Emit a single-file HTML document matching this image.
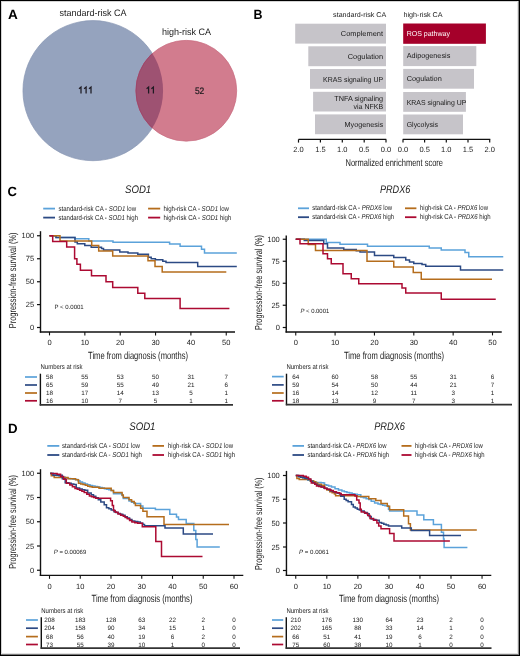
<!DOCTYPE html>
<html><head><meta charset="utf-8"><title>Figure</title>
<style>
html,body{margin:0;padding:0;background:#fff;}
body{width:520px;height:656px;overflow:hidden;}
svg{display:block;will-change:transform;font-family:"Liberation Sans", sans-serif;text-rendering:geometricPrecision;}
</style></head>
<body>
<svg width="520" height="656" viewBox="0 0 520 656" fill="#1a1a1a">
<rect x="0" y="0" width="520" height="656" fill="#fff"/>
<text x="7.90" y="18.60" font-size="13.3" font-weight="bold" fill="#000" textLength="9.80" lengthAdjust="spacingAndGlyphs">A</text>
<defs><clipPath id="cb"><circle cx="93.0" cy="90.65" r="70.05"/></clipPath></defs>
<circle cx="93.0" cy="90.65" r="70.05" fill="#95a3be" stroke="#8896b3" stroke-width="0.7"/>
<circle cx="186.3" cy="90.75" r="50.4" fill="#d27c8e" stroke="#c96b80" stroke-width="0.7"/>
<circle cx="186.3" cy="90.75" r="50.4" fill="#9e5272" stroke="#973f66" stroke-width="0.7" clip-path="url(#cb)"/>
<text x="59.60" y="15.60" font-size="9.4" textLength="66.90" lengthAdjust="spacingAndGlyphs">standard-risk CA</text>
<text x="161.90" y="34.80" font-size="9.4" textLength="49.10" lengthAdjust="spacingAndGlyphs">high-risk CA</text>
<path d="M81.00,93.6V87.1L79.00,88.8" fill="none" stroke="#1e1a22" stroke-width="1.25" stroke-linejoin="miter"/>
<path d="M86.10,93.6V87.1L84.10,88.8" fill="none" stroke="#1e1a22" stroke-width="1.25" stroke-linejoin="miter"/>
<path d="M91.00,93.6V87.1L89.00,88.8" fill="none" stroke="#1e1a22" stroke-width="1.25" stroke-linejoin="miter"/>
<path d="M148.60,93.6V87.1L146.60,88.8" fill="none" stroke="#1e1a22" stroke-width="1.25" stroke-linejoin="miter"/>
<path d="M153.40,93.6V87.1L151.40,88.8" fill="none" stroke="#1e1a22" stroke-width="1.25" stroke-linejoin="miter"/>
<text x="194.90" y="93.60" font-size="9.4" textLength="9.40" lengthAdjust="spacingAndGlyphs" stroke="#1e1a22" stroke-width="0.2">52</text>
<text x="253.60" y="18.60" font-size="13.3" font-weight="bold" fill="#000" textLength="9.00" lengthAdjust="spacingAndGlyphs">B</text>
<text x="333.10" y="17.20" font-size="7.0" textLength="53.10" lengthAdjust="spacingAndGlyphs">standard-risk CA</text>
<text x="403.40" y="17.20" font-size="7.0" textLength="39.20" lengthAdjust="spacingAndGlyphs">high-risk CA</text>
<rect x="295.20" y="23.70" width="90.80" height="19.90" fill="#c6c4c9"/>
<text x="340.80" y="35.90" font-size="7.2" textLength="42.30" lengthAdjust="spacingAndGlyphs">Complement</text>
<rect x="308.30" y="46.30" width="77.70" height="19.90" fill="#c6c4c9"/>
<text x="347.70" y="58.80" font-size="7.2" textLength="35.40" lengthAdjust="spacingAndGlyphs">Cogulation</text>
<rect x="310.00" y="69.00" width="76.00" height="19.80" fill="#c6c4c9"/>
<text x="323.00" y="81.50" font-size="7.2" textLength="60.10" lengthAdjust="spacingAndGlyphs">KRAS signaling UP</text>
<rect x="313.10" y="91.80" width="72.90" height="19.70" fill="#c6c4c9"/>
<text x="334.20" y="100.50" font-size="7.2" textLength="48.90" lengthAdjust="spacingAndGlyphs">TNFA signaling</text>
<text x="353.50" y="108.80" font-size="7.2" textLength="29.60" lengthAdjust="spacingAndGlyphs">via NFKB</text>
<rect x="315.00" y="114.40" width="71.00" height="19.80" fill="#c6c4c9"/>
<text x="344.60" y="126.50" font-size="7.2" textLength="38.50" lengthAdjust="spacingAndGlyphs">Myogenesis</text>
<rect x="403.20" y="23.50" width="82.70" height="20.30" fill="#a5002a"/>
<text x="406.70" y="36.30" font-size="7.2" fill="#fff" textLength="43.20" lengthAdjust="spacingAndGlyphs">ROS pathway</text>
<rect x="403.20" y="46.10" width="73.10" height="20.00" fill="#c6c4c9"/>
<text x="406.70" y="58.40" font-size="7.2" textLength="43.60" lengthAdjust="spacingAndGlyphs">Adipogenesis</text>
<rect x="403.20" y="68.90" width="70.80" height="19.80" fill="#c6c4c9"/>
<text x="406.70" y="81.40" font-size="7.2" textLength="35.10" lengthAdjust="spacingAndGlyphs">Cogulation</text>
<rect x="403.20" y="92.00" width="62.70" height="19.80" fill="#c6c4c9"/>
<text x="406.70" y="104.50" font-size="7.2" textLength="59.60" lengthAdjust="spacingAndGlyphs">KRAS signaling UP</text>
<rect x="403.20" y="114.50" width="59.80" height="19.80" fill="#c6c4c9"/>
<text x="406.70" y="126.60" font-size="7.2" textLength="31.30" lengthAdjust="spacingAndGlyphs">Glycolysis</text>
<line x1="298.50" y1="139.40" x2="386.30" y2="139.40" stroke="#111" stroke-width="1.4"/>
<line x1="402.70" y1="139.40" x2="490.30" y2="139.40" stroke="#111" stroke-width="1.4"/>
<line x1="298.50" y1="139.40" x2="298.50" y2="142.60" stroke="#111" stroke-width="1.2"/>
<text x="298.50" y="152.30" font-size="7.5" text-anchor="middle">2.0</text>
<line x1="320.40" y1="139.40" x2="320.40" y2="142.60" stroke="#111" stroke-width="1.2"/>
<text x="320.40" y="152.30" font-size="7.5" text-anchor="middle">1.5</text>
<line x1="342.30" y1="139.40" x2="342.30" y2="142.60" stroke="#111" stroke-width="1.2"/>
<text x="342.30" y="152.30" font-size="7.5" text-anchor="middle">1.0</text>
<line x1="364.20" y1="139.40" x2="364.20" y2="142.60" stroke="#111" stroke-width="1.2"/>
<text x="364.20" y="152.30" font-size="7.5" text-anchor="middle">0.5</text>
<line x1="386.00" y1="139.40" x2="386.00" y2="142.60" stroke="#111" stroke-width="1.2"/>
<text x="386.00" y="152.30" font-size="7.5" text-anchor="middle">0.0</text>
<line x1="403.00" y1="139.40" x2="403.00" y2="142.60" stroke="#111" stroke-width="1.2"/>
<text x="403.00" y="152.30" font-size="7.5" text-anchor="middle">0.0</text>
<line x1="424.60" y1="139.40" x2="424.60" y2="142.60" stroke="#111" stroke-width="1.2"/>
<text x="424.60" y="152.30" font-size="7.5" text-anchor="middle">0.5</text>
<line x1="446.30" y1="139.40" x2="446.30" y2="142.60" stroke="#111" stroke-width="1.2"/>
<text x="446.30" y="152.30" font-size="7.5" text-anchor="middle">1.0</text>
<line x1="468.00" y1="139.40" x2="468.00" y2="142.60" stroke="#111" stroke-width="1.2"/>
<text x="468.00" y="152.30" font-size="7.5" text-anchor="middle">1.5</text>
<line x1="489.70" y1="139.40" x2="489.70" y2="142.60" stroke="#111" stroke-width="1.2"/>
<text x="489.70" y="152.30" font-size="7.5" text-anchor="middle">2.0</text>
<text x="345.50" y="165.50" font-size="10.0" textLength="97.50" lengthAdjust="spacingAndGlyphs">Normalized enrichment score</text>
<text x="7.60" y="195.90" font-size="13.3" font-weight="bold" fill="#000" textLength="9.40" lengthAdjust="spacingAndGlyphs">C</text>
<text x="125.00" y="192.90" font-size="11.0" font-style="italic" textLength="26.20" lengthAdjust="spacingAndGlyphs">SOD1</text>
<text x="380.00" y="192.90" font-size="11.0" font-style="italic" textLength="30.30" lengthAdjust="spacingAndGlyphs">PRDX6</text>
<line x1="43.20" y1="208.60" x2="55.00" y2="208.60" stroke="#5ba2da" stroke-width="1.8"/>
<line x1="43.20" y1="217.60" x2="55.00" y2="217.60" stroke="#2c4a84" stroke-width="1.8"/>
<line x1="148.10" y1="208.60" x2="160.20" y2="208.60" stroke="#b56d1c" stroke-width="1.8"/>
<line x1="148.10" y1="217.60" x2="160.20" y2="217.60" stroke="#ac0a32" stroke-width="1.8"/>
<text x="58.50" y="210.60" font-size="7.1" textLength="77.60" lengthAdjust="spacingAndGlyphs">standard-risk CA - <tspan font-style="italic">SOD1</tspan> low</text>
<text x="58.50" y="219.60" font-size="7.1" textLength="79.50" lengthAdjust="spacingAndGlyphs">standard-risk CA - <tspan font-style="italic">SOD1</tspan> high</text>
<text x="163.50" y="210.60" font-size="7.1" textLength="65.40" lengthAdjust="spacingAndGlyphs">high-risk CA - <tspan font-style="italic">SOD1</tspan> low</text>
<text x="163.50" y="219.60" font-size="7.1" textLength="67.90" lengthAdjust="spacingAndGlyphs">high-risk CA - <tspan font-style="italic">SOD1</tspan> high</text>
<line x1="298.00" y1="208.30" x2="309.00" y2="208.30" stroke="#5ba2da" stroke-width="1.8"/>
<line x1="298.00" y1="217.20" x2="309.00" y2="217.20" stroke="#2c4a84" stroke-width="1.8"/>
<line x1="405.00" y1="208.30" x2="416.40" y2="208.30" stroke="#b56d1c" stroke-width="1.8"/>
<line x1="405.00" y1="217.20" x2="416.40" y2="217.20" stroke="#ac0a32" stroke-width="1.8"/>
<text x="312.20" y="210.30" font-size="7.1" textLength="80.00" lengthAdjust="spacingAndGlyphs">standard-risk CA - <tspan font-style="italic">PRDX6</tspan> low</text>
<text x="312.20" y="219.20" font-size="7.1" textLength="82.00" lengthAdjust="spacingAndGlyphs">standard-risk CA - <tspan font-style="italic">PRDX6</tspan> high</text>
<text x="420.00" y="210.30" font-size="7.1" textLength="68.00" lengthAdjust="spacingAndGlyphs">high-risk CA - <tspan font-style="italic">PRDX6</tspan> low</text>
<text x="420.00" y="219.20" font-size="7.1" textLength="70.70" lengthAdjust="spacingAndGlyphs">high-risk CA - <tspan font-style="italic">PRDX6</tspan> high</text>
<line x1="40.50" y1="231.20" x2="40.50" y2="332.60" stroke="#111" stroke-width="1.4"/>
<line x1="39.80" y1="332.00" x2="235.00" y2="332.00" stroke="#111" stroke-width="1.4"/>
<line x1="37.00" y1="235.75" x2="40.50" y2="235.75" stroke="#111" stroke-width="1.2"/>
<text x="34.10" y="238.35" font-size="7.5" text-anchor="end">100</text>
<line x1="37.00" y1="258.75" x2="40.50" y2="258.75" stroke="#111" stroke-width="1.2"/>
<text x="34.10" y="261.35" font-size="7.5" text-anchor="end">75</text>
<line x1="37.00" y1="281.75" x2="40.50" y2="281.75" stroke="#111" stroke-width="1.2"/>
<text x="34.10" y="284.35" font-size="7.5" text-anchor="end">50</text>
<line x1="37.00" y1="304.60" x2="40.50" y2="304.60" stroke="#111" stroke-width="1.2"/>
<text x="34.10" y="307.20" font-size="7.5" text-anchor="end">25</text>
<line x1="37.00" y1="327.50" x2="40.50" y2="327.50" stroke="#111" stroke-width="1.2"/>
<text x="34.10" y="330.10" font-size="7.5" text-anchor="end">0</text>
<line x1="49.50" y1="332.00" x2="49.50" y2="335.40" stroke="#111" stroke-width="1.1"/>
<text x="49.50" y="344.90" font-size="7.5" text-anchor="middle">0</text>
<line x1="84.85" y1="332.00" x2="84.85" y2="335.40" stroke="#111" stroke-width="1.1"/>
<text x="84.85" y="344.90" font-size="7.5" text-anchor="middle">10</text>
<line x1="120.20" y1="332.00" x2="120.20" y2="335.40" stroke="#111" stroke-width="1.1"/>
<text x="120.20" y="344.90" font-size="7.5" text-anchor="middle">20</text>
<line x1="155.55" y1="332.00" x2="155.55" y2="335.40" stroke="#111" stroke-width="1.1"/>
<text x="155.55" y="344.90" font-size="7.5" text-anchor="middle">30</text>
<line x1="190.90" y1="332.00" x2="190.90" y2="335.40" stroke="#111" stroke-width="1.1"/>
<text x="190.90" y="344.90" font-size="7.5" text-anchor="middle">40</text>
<line x1="226.25" y1="332.00" x2="226.25" y2="335.40" stroke="#111" stroke-width="1.1"/>
<text x="226.25" y="344.90" font-size="7.5" text-anchor="middle">50</text>
<text x="16.30" y="328.20" font-size="10.2" textLength="95.70" lengthAdjust="spacingAndGlyphs" transform="rotate(-90 16.30 328.20)">Progression-free survival (%)</text>
<text x="88.10" y="358.50" font-size="10.4" textLength="99.90" lengthAdjust="spacingAndGlyphs">Time from diagnosis (months)</text>
<text x="54.50" y="309.30" font-size="6.2" textLength="29.20" lengthAdjust="spacingAndGlyphs">P &lt; 0.0001</text>
<path d="M49.50,235.70H56.00V237.50H75.00V238.70H88.80V241.00H113.00V242.20H169.60V244.10H180.10V246.20H201.50V249.20H204.50V253.00H236.80" fill="none" stroke="#5ba2da" stroke-width="1.5" stroke-linejoin="miter"/>
<path d="M49.50,235.70H56.00V237.50H75.00V242.10H77.30V243.80H84.80V245.60H91.20V247.30H101.50V248.50H103.50V250.10H119.80V252.00H128.00V253.00H137.80V254.20H148.40V257.20H151.20V258.70H155.40V259.70H162.80V261.20H166.00V262.50H197.70V266.50H236.80" fill="none" stroke="#2c4a84" stroke-width="1.5" stroke-linejoin="miter"/>
<path d="M49.50,235.70H60.00V241.00H91.70V245.60H98.70V251.00H112.70V256.00H148.00V260.80H155.00V266.50H162.20V272.00H226.30" fill="none" stroke="#b56d1c" stroke-width="1.5" stroke-linejoin="miter"/>
<path d="M49.50,235.70H52.70V241.50H66.70V247.00H74.60V258.80H76.90V264.20H80.40V270.30H91.50V275.70H106.00V281.80H112.70V287.60H137.80V293.20H144.80V298.40H180.10V308.40H229.40" fill="none" stroke="#ac0a32" stroke-width="1.5" stroke-linejoin="miter"/>
<text x="40.50" y="369.00" font-size="6.9" textLength="42.00" lengthAdjust="spacingAndGlyphs">Numbers at risk</text>
<line x1="40.40" y1="373.70" x2="40.40" y2="405.50" stroke="#111" stroke-width="1.4"/>
<line x1="39.70" y1="404.90" x2="233.00" y2="404.90" stroke="#333" stroke-width="1.6"/>
<line x1="25.00" y1="377.00" x2="37.00" y2="377.00" stroke="#5ba2da" stroke-width="1.7"/>
<line x1="25.00" y1="385.00" x2="37.00" y2="385.00" stroke="#2c4a84" stroke-width="1.7"/>
<line x1="25.00" y1="393.00" x2="37.00" y2="393.00" stroke="#b56d1c" stroke-width="1.7"/>
<line x1="25.00" y1="400.80" x2="37.00" y2="400.80" stroke="#ac0a32" stroke-width="1.7"/>
<text x="49.50" y="379.10" font-size="6.3" text-anchor="middle">58</text>
<text x="84.85" y="379.10" font-size="6.3" text-anchor="middle">55</text>
<text x="120.20" y="379.10" font-size="6.3" text-anchor="middle">53</text>
<text x="155.55" y="379.10" font-size="6.3" text-anchor="middle">50</text>
<text x="190.90" y="379.10" font-size="6.3" text-anchor="middle">31</text>
<text x="226.25" y="379.10" font-size="6.3" text-anchor="middle">7</text>
<text x="49.50" y="387.10" font-size="6.3" text-anchor="middle">65</text>
<text x="84.85" y="387.10" font-size="6.3" text-anchor="middle">59</text>
<text x="120.20" y="387.10" font-size="6.3" text-anchor="middle">55</text>
<text x="155.55" y="387.10" font-size="6.3" text-anchor="middle">49</text>
<text x="190.90" y="387.10" font-size="6.3" text-anchor="middle">21</text>
<text x="226.25" y="387.10" font-size="6.3" text-anchor="middle">6</text>
<text x="49.50" y="395.10" font-size="6.3" text-anchor="middle">18</text>
<text x="84.85" y="395.10" font-size="6.3" text-anchor="middle">17</text>
<text x="120.20" y="395.10" font-size="6.3" text-anchor="middle">14</text>
<text x="155.55" y="395.10" font-size="6.3" text-anchor="middle">13</text>
<text x="190.90" y="395.10" font-size="6.3" text-anchor="middle">5</text>
<text x="226.25" y="395.10" font-size="6.3" text-anchor="middle">1</text>
<text x="49.50" y="402.90" font-size="6.3" text-anchor="middle">16</text>
<text x="84.85" y="402.90" font-size="6.3" text-anchor="middle">10</text>
<text x="120.20" y="402.90" font-size="6.3" text-anchor="middle">7</text>
<text x="155.55" y="402.90" font-size="6.3" text-anchor="middle">5</text>
<text x="190.90" y="402.90" font-size="6.3" text-anchor="middle">1</text>
<text x="226.25" y="402.90" font-size="6.3" text-anchor="middle">1</text>
<line x1="286.25" y1="235.50" x2="286.25" y2="332.60" stroke="#111" stroke-width="1.4"/>
<line x1="285.55" y1="332.00" x2="501.75" y2="332.00" stroke="#111" stroke-width="1.4"/>
<line x1="282.75" y1="239.25" x2="286.25" y2="239.25" stroke="#111" stroke-width="1.2"/>
<text x="279.80" y="241.85" font-size="7.5" text-anchor="end">100</text>
<line x1="282.75" y1="261.25" x2="286.25" y2="261.25" stroke="#111" stroke-width="1.2"/>
<text x="279.80" y="263.85" font-size="7.5" text-anchor="end">75</text>
<line x1="282.75" y1="283.25" x2="286.25" y2="283.25" stroke="#111" stroke-width="1.2"/>
<text x="279.80" y="285.85" font-size="7.5" text-anchor="end">50</text>
<line x1="282.75" y1="305.25" x2="286.25" y2="305.25" stroke="#111" stroke-width="1.2"/>
<text x="279.80" y="307.85" font-size="7.5" text-anchor="end">25</text>
<line x1="282.75" y1="327.50" x2="286.25" y2="327.50" stroke="#111" stroke-width="1.2"/>
<text x="279.80" y="330.10" font-size="7.5" text-anchor="end">0</text>
<line x1="295.75" y1="332.00" x2="295.75" y2="335.40" stroke="#111" stroke-width="1.1"/>
<text x="295.75" y="344.90" font-size="7.5" text-anchor="middle">0</text>
<line x1="335.10" y1="332.00" x2="335.10" y2="335.40" stroke="#111" stroke-width="1.1"/>
<text x="335.10" y="344.90" font-size="7.5" text-anchor="middle">10</text>
<line x1="374.45" y1="332.00" x2="374.45" y2="335.40" stroke="#111" stroke-width="1.1"/>
<text x="374.45" y="344.90" font-size="7.5" text-anchor="middle">20</text>
<line x1="413.80" y1="332.00" x2="413.80" y2="335.40" stroke="#111" stroke-width="1.1"/>
<text x="413.80" y="344.90" font-size="7.5" text-anchor="middle">30</text>
<line x1="453.15" y1="332.00" x2="453.15" y2="335.40" stroke="#111" stroke-width="1.1"/>
<text x="453.15" y="344.90" font-size="7.5" text-anchor="middle">40</text>
<line x1="492.50" y1="332.00" x2="492.50" y2="335.40" stroke="#111" stroke-width="1.1"/>
<text x="492.50" y="344.90" font-size="7.5" text-anchor="middle">50</text>
<text x="261.60" y="330.00" font-size="10.2" textLength="95.00" lengthAdjust="spacingAndGlyphs" transform="rotate(-90 261.60 330.00)">Progression-free survival (%)</text>
<text x="344.00" y="358.50" font-size="10.4" textLength="100.00" lengthAdjust="spacingAndGlyphs">Time from diagnosis (months)</text>
<text x="300.5" y="312.8" font-size="6.2" textLength="28.7" lengthAdjust="spacingAndGlyphs"><tspan font-style="italic">P</tspan> &lt; 0.0001</text>
<path d="M295.75,239.25H326.25V242.50H340.00V244.25H367.50V246.25H429.25V248.00H441.25V250.00H465.00V252.50H468.75V256.75H503.25" fill="none" stroke="#5ba2da" stroke-width="1.5" stroke-linejoin="miter"/>
<path d="M295.75,239.25H304.25V240.50H323.75V243.75H327.50V248.00H343.75V249.50H356.25V250.75H360.00V252.00H374.50V255.50H393.75V257.50H405.75V260.00H409.50V262.00H413.75V263.50H422.00V264.50H425.75V266.25H460.50V270.00H503.25" fill="none" stroke="#2c4a84" stroke-width="1.5" stroke-linejoin="miter"/>
<path d="M295.75,239.25H308.25V244.50H315.50V250.50H367.00V261.25H393.75V267.00H413.25V272.50H421.25V279.25H492.00" fill="none" stroke="#b56d1c" stroke-width="1.5" stroke-linejoin="miter"/>
<path d="M295.75,239.25H300.00V243.75H323.00V253.75H327.50V258.75H331.25V263.75H343.00V273.75H351.25V278.75H358.75V283.75H402.00V288.00H405.75V293.00H441.25V299.25H495.75" fill="none" stroke="#ac0a32" stroke-width="1.5" stroke-linejoin="miter"/>
<text x="286.40" y="369.00" font-size="6.9" textLength="42.00" lengthAdjust="spacingAndGlyphs">Numbers at risk</text>
<line x1="286.50" y1="373.70" x2="286.50" y2="405.20" stroke="#111" stroke-width="1.4"/>
<line x1="285.80" y1="404.60" x2="512.00" y2="404.60" stroke="#333" stroke-width="1.6"/>
<line x1="272.00" y1="376.60" x2="283.70" y2="376.60" stroke="#5ba2da" stroke-width="1.7"/>
<line x1="272.00" y1="384.90" x2="283.70" y2="384.90" stroke="#2c4a84" stroke-width="1.7"/>
<line x1="272.00" y1="393.00" x2="283.70" y2="393.00" stroke="#b56d1c" stroke-width="1.7"/>
<line x1="272.00" y1="400.80" x2="283.70" y2="400.80" stroke="#ac0a32" stroke-width="1.7"/>
<text x="295.75" y="378.70" font-size="6.3" text-anchor="middle">64</text>
<text x="335.10" y="378.70" font-size="6.3" text-anchor="middle">60</text>
<text x="374.45" y="378.70" font-size="6.3" text-anchor="middle">58</text>
<text x="413.80" y="378.70" font-size="6.3" text-anchor="middle">55</text>
<text x="453.15" y="378.70" font-size="6.3" text-anchor="middle">31</text>
<text x="492.50" y="378.70" font-size="6.3" text-anchor="middle">6</text>
<text x="295.75" y="387.00" font-size="6.3" text-anchor="middle">59</text>
<text x="335.10" y="387.00" font-size="6.3" text-anchor="middle">54</text>
<text x="374.45" y="387.00" font-size="6.3" text-anchor="middle">50</text>
<text x="413.80" y="387.00" font-size="6.3" text-anchor="middle">44</text>
<text x="453.15" y="387.00" font-size="6.3" text-anchor="middle">21</text>
<text x="492.50" y="387.00" font-size="6.3" text-anchor="middle">7</text>
<text x="295.75" y="395.10" font-size="6.3" text-anchor="middle">16</text>
<text x="335.10" y="395.10" font-size="6.3" text-anchor="middle">14</text>
<text x="374.45" y="395.10" font-size="6.3" text-anchor="middle">12</text>
<text x="413.80" y="395.10" font-size="6.3" text-anchor="middle">11</text>
<text x="453.15" y="395.10" font-size="6.3" text-anchor="middle">3</text>
<text x="492.50" y="395.10" font-size="6.3" text-anchor="middle">1</text>
<text x="295.75" y="402.90" font-size="6.3" text-anchor="middle">18</text>
<text x="335.10" y="402.90" font-size="6.3" text-anchor="middle">13</text>
<text x="374.45" y="402.90" font-size="6.3" text-anchor="middle">9</text>
<text x="413.80" y="402.90" font-size="6.3" text-anchor="middle">7</text>
<text x="453.15" y="402.90" font-size="6.3" text-anchor="middle">3</text>
<text x="492.50" y="402.90" font-size="6.3" text-anchor="middle">1</text>
<text x="8.00" y="432.90" font-size="13.3" font-weight="bold" fill="#000" textLength="9.60" lengthAdjust="spacingAndGlyphs">D</text>
<text x="129.20" y="429.90" font-size="11.0" font-style="italic" textLength="26.30" lengthAdjust="spacingAndGlyphs">SOD1</text>
<text x="374.20" y="429.90" font-size="11.0" font-style="italic" textLength="30.80" lengthAdjust="spacingAndGlyphs">PRDX6</text>
<line x1="47.30" y1="445.90" x2="59.30" y2="445.90" stroke="#5ba2da" stroke-width="1.8"/>
<line x1="47.30" y1="455.00" x2="59.30" y2="455.00" stroke="#2c4a84" stroke-width="1.8"/>
<line x1="152.50" y1="445.90" x2="164.00" y2="445.90" stroke="#b56d1c" stroke-width="1.8"/>
<line x1="152.50" y1="455.00" x2="164.00" y2="455.00" stroke="#ac0a32" stroke-width="1.8"/>
<text x="62.00" y="447.90" font-size="7.1" textLength="78.00" lengthAdjust="spacingAndGlyphs">standard-risk CA - <tspan font-style="italic">SOD1</tspan> low</text>
<text x="62.00" y="457.00" font-size="7.1" textLength="80.00" lengthAdjust="spacingAndGlyphs">standard-risk CA - <tspan font-style="italic">SOD1</tspan> high</text>
<text x="168.00" y="447.90" font-size="7.1" textLength="65.00" lengthAdjust="spacingAndGlyphs">high-risk CA - <tspan font-style="italic">SOD1</tspan> low</text>
<text x="168.00" y="457.00" font-size="7.1" textLength="67.00" lengthAdjust="spacingAndGlyphs">high-risk CA - <tspan font-style="italic">SOD1</tspan> high</text>
<line x1="292.50" y1="445.90" x2="304.00" y2="445.90" stroke="#5ba2da" stroke-width="1.8"/>
<line x1="292.50" y1="455.00" x2="304.00" y2="455.00" stroke="#2c4a84" stroke-width="1.8"/>
<line x1="401.50" y1="445.90" x2="411.50" y2="445.90" stroke="#b56d1c" stroke-width="1.8"/>
<line x1="401.50" y1="455.00" x2="411.50" y2="455.00" stroke="#ac0a32" stroke-width="1.8"/>
<text x="307.50" y="447.90" font-size="7.1" textLength="79.00" lengthAdjust="spacingAndGlyphs">standard-risk CA - <tspan font-style="italic">PRDX6</tspan> low</text>
<text x="307.50" y="457.00" font-size="7.1" textLength="81.50" lengthAdjust="spacingAndGlyphs">standard-risk CA - <tspan font-style="italic">PRDX6</tspan> high</text>
<text x="415.00" y="447.90" font-size="7.1" textLength="67.80" lengthAdjust="spacingAndGlyphs">high-risk CA - <tspan font-style="italic">PRDX6</tspan> low</text>
<text x="415.00" y="457.00" font-size="7.1" textLength="69.60" lengthAdjust="spacingAndGlyphs">high-risk CA - <tspan font-style="italic">PRDX6</tspan> high</text>
<line x1="40.50" y1="469.20" x2="40.50" y2="576.00" stroke="#111" stroke-width="1.4"/>
<line x1="39.80" y1="575.40" x2="243.30" y2="575.40" stroke="#111" stroke-width="1.4"/>
<line x1="37.00" y1="473.25" x2="40.50" y2="473.25" stroke="#111" stroke-width="1.2"/>
<text x="34.10" y="475.85" font-size="7.5" text-anchor="end">100</text>
<line x1="37.00" y1="497.50" x2="40.50" y2="497.50" stroke="#111" stroke-width="1.2"/>
<text x="34.10" y="500.10" font-size="7.5" text-anchor="end">75</text>
<line x1="37.00" y1="521.75" x2="40.50" y2="521.75" stroke="#111" stroke-width="1.2"/>
<text x="34.10" y="524.35" font-size="7.5" text-anchor="end">50</text>
<line x1="37.00" y1="546.00" x2="40.50" y2="546.00" stroke="#111" stroke-width="1.2"/>
<text x="34.10" y="548.60" font-size="7.5" text-anchor="end">25</text>
<line x1="37.00" y1="570.25" x2="40.50" y2="570.25" stroke="#111" stroke-width="1.2"/>
<text x="34.10" y="572.85" font-size="7.5" text-anchor="end">0</text>
<line x1="49.50" y1="575.40" x2="49.50" y2="578.80" stroke="#111" stroke-width="1.1"/>
<text x="49.50" y="588.50" font-size="7.5" text-anchor="middle">0</text>
<line x1="80.25" y1="575.40" x2="80.25" y2="578.80" stroke="#111" stroke-width="1.1"/>
<text x="80.25" y="588.50" font-size="7.5" text-anchor="middle">10</text>
<line x1="111.00" y1="575.40" x2="111.00" y2="578.80" stroke="#111" stroke-width="1.1"/>
<text x="111.00" y="588.50" font-size="7.5" text-anchor="middle">20</text>
<line x1="141.75" y1="575.40" x2="141.75" y2="578.80" stroke="#111" stroke-width="1.1"/>
<text x="141.75" y="588.50" font-size="7.5" text-anchor="middle">30</text>
<line x1="172.50" y1="575.40" x2="172.50" y2="578.80" stroke="#111" stroke-width="1.1"/>
<text x="172.50" y="588.50" font-size="7.5" text-anchor="middle">40</text>
<line x1="203.25" y1="575.40" x2="203.25" y2="578.80" stroke="#111" stroke-width="1.1"/>
<text x="203.25" y="588.50" font-size="7.5" text-anchor="middle">50</text>
<line x1="234.00" y1="575.40" x2="234.00" y2="578.80" stroke="#111" stroke-width="1.1"/>
<text x="234.00" y="588.50" font-size="7.5" text-anchor="middle">60</text>
<text x="16.30" y="568.80" font-size="10.2" textLength="93.80" lengthAdjust="spacingAndGlyphs" transform="rotate(-90 16.30 568.80)">Progression-free survival (%)</text>
<text x="91.50" y="601.50" font-size="10.4" textLength="101.00" lengthAdjust="spacingAndGlyphs">Time from diagnosis (months)</text>
<text x="53.75" y="554.1" font-size="6.2" textLength="32.5" lengthAdjust="spacingAndGlyphs"><tspan font-style="italic">P</tspan> = 0.00069</text>
<path d="M50.00,473.30H53.00V474.40H56.00V475.50H59.00V476.25H62.00V477.00H65.00V477.75H68.00V478.50H70.53V478.83H73.07V479.17H75.60V479.50H77.80V480.75H80.00V482.00H82.50V483.00H85.00V484.00H87.50V484.75H90.00V485.50H92.50V486.00H95.00V486.50H97.50V487.00H100.00V487.50H102.20V488.08H104.40V488.66H106.60V489.24H108.80V489.82H111.00V490.40H113.50V493.80H122.00V495.50H123.30V498.50H129.00V501.00H131.50V502.25H134.00V503.50H140.60V506.00H142.90V508.30H155.40V509.40H169.80V514.20H176.50V517.10H178.50V519.60H186.20V523.50H193.80V530.60H195.80V539.60H197.10V546.90H219.80" fill="none" stroke="#5ba2da" stroke-width="1.5" stroke-linejoin="miter"/>
<path d="M50.00,473.30H51.30V475.80H54.20V477.50H68.00V478.70H75.60V479.80H78.50V483.30H80.75V483.90H83.00V484.50H85.35V485.35H87.70V486.20H90.00V486.75H92.30V487.30H99.00V488.30H111.20V490.40H113.50V492.50H122.10V495.00H123.30V497.50H129.00V499.80H131.60V501.45H134.20V503.10H135.40V505.60H140.60V508.30H142.90V511.20H147.00V516.70H164.00V524.40H229.00" fill="none" stroke="#b56d1c" stroke-width="1.5" stroke-linejoin="miter"/>
<path d="M50.00,473.50H53.00V475.20H62.30V478.70H65.20V482.70H68.70V483.30H71.25V483.90H73.80V484.50H76.20V487.90H79.60V489.10H82.20V489.65H84.80V490.20H87.70V493.10H91.20V494.80H93.50V496.25H95.80V497.70H98.30V499.80H100.80V501.90H104.20V504.80H106.50V507.70H108.85V508.85H111.20V510.00H114.00V511.70H116.00V512.60H118.00V513.50H120.35V514.35H122.70V515.20H125.00V516.65H127.30V518.10H129.60V519.55H131.90V521.00H134.80V521.55H137.70V522.10H140.30V523.25H142.90V524.40H144.50V525.80H165.00V528.00H183.30V534.00H213.00" fill="none" stroke="#2c4a84" stroke-width="1.5" stroke-linejoin="miter"/>
<path d="M50.50,473.50H57.10V474.30H60.60V476.40H63.50V479.30H66.30V483.30H69.80V485.00H72.40V486.75H75.00V488.50H77.30V489.35H79.60V490.20H81.90V491.35H84.20V492.50H86.80V494.25H89.40V496.00H91.53V496.77H93.67V497.53H95.80V498.30H108.80V498.30H110.60V500.80H112.30V505.40H113.50V510.60H115.20V512.30H118.00V514.00H120.65V515.15H123.30V516.30H125.30V517.50H127.30V518.70H129.60V520.40H131.90V522.10H134.80V522.70H137.70V523.30H142.30V526.70H155.80V541.50H161.50V556.50H202.50" fill="none" stroke="#ac0a32" stroke-width="1.5" stroke-linejoin="miter"/>
<text x="41.25" y="612.60" font-size="6.9" textLength="42.00" lengthAdjust="spacingAndGlyphs">Numbers at risk</text>
<line x1="41.30" y1="617.30" x2="41.30" y2="648.70" stroke="#111" stroke-width="1.4"/>
<line x1="40.60" y1="648.10" x2="240.00" y2="648.10" stroke="#333" stroke-width="1.6"/>
<line x1="26.00" y1="620.00" x2="37.90" y2="620.00" stroke="#5ba2da" stroke-width="1.7"/>
<line x1="26.00" y1="628.20" x2="37.90" y2="628.20" stroke="#2c4a84" stroke-width="1.7"/>
<line x1="26.00" y1="636.60" x2="37.90" y2="636.60" stroke="#b56d1c" stroke-width="1.7"/>
<line x1="26.00" y1="644.50" x2="37.90" y2="644.50" stroke="#ac0a32" stroke-width="1.7"/>
<text x="49.50" y="622.10" font-size="6.3" text-anchor="middle">208</text>
<text x="80.25" y="622.10" font-size="6.3" text-anchor="middle">183</text>
<text x="111.00" y="622.10" font-size="6.3" text-anchor="middle">128</text>
<text x="141.75" y="622.10" font-size="6.3" text-anchor="middle">63</text>
<text x="172.50" y="622.10" font-size="6.3" text-anchor="middle">22</text>
<text x="203.25" y="622.10" font-size="6.3" text-anchor="middle">2</text>
<text x="234.00" y="622.10" font-size="6.3" text-anchor="middle">0</text>
<text x="49.50" y="630.30" font-size="6.3" text-anchor="middle">204</text>
<text x="80.25" y="630.30" font-size="6.3" text-anchor="middle">158</text>
<text x="111.00" y="630.30" font-size="6.3" text-anchor="middle">90</text>
<text x="141.75" y="630.30" font-size="6.3" text-anchor="middle">34</text>
<text x="172.50" y="630.30" font-size="6.3" text-anchor="middle">15</text>
<text x="203.25" y="630.30" font-size="6.3" text-anchor="middle">1</text>
<text x="234.00" y="630.30" font-size="6.3" text-anchor="middle">0</text>
<text x="49.50" y="638.70" font-size="6.3" text-anchor="middle">68</text>
<text x="80.25" y="638.70" font-size="6.3" text-anchor="middle">56</text>
<text x="111.00" y="638.70" font-size="6.3" text-anchor="middle">40</text>
<text x="141.75" y="638.70" font-size="6.3" text-anchor="middle">19</text>
<text x="172.50" y="638.70" font-size="6.3" text-anchor="middle">6</text>
<text x="203.25" y="638.70" font-size="6.3" text-anchor="middle">2</text>
<text x="234.00" y="638.70" font-size="6.3" text-anchor="middle">0</text>
<text x="49.50" y="646.60" font-size="6.3" text-anchor="middle">73</text>
<text x="80.25" y="646.60" font-size="6.3" text-anchor="middle">55</text>
<text x="111.00" y="646.60" font-size="6.3" text-anchor="middle">39</text>
<text x="141.75" y="646.60" font-size="6.3" text-anchor="middle">10</text>
<text x="172.50" y="646.60" font-size="6.3" text-anchor="middle">1</text>
<text x="203.25" y="646.60" font-size="6.3" text-anchor="middle">0</text>
<text x="234.00" y="646.60" font-size="6.3" text-anchor="middle">0</text>
<line x1="286.45" y1="470.90" x2="286.45" y2="576.00" stroke="#111" stroke-width="1.4"/>
<line x1="285.75" y1="575.40" x2="491.30" y2="575.40" stroke="#111" stroke-width="1.4"/>
<line x1="282.95" y1="475.50" x2="286.45" y2="475.50" stroke="#111" stroke-width="1.2"/>
<text x="279.80" y="478.10" font-size="7.5" text-anchor="end">100</text>
<line x1="282.95" y1="499.25" x2="286.45" y2="499.25" stroke="#111" stroke-width="1.2"/>
<text x="279.80" y="501.85" font-size="7.5" text-anchor="end">75</text>
<line x1="282.95" y1="523.00" x2="286.45" y2="523.00" stroke="#111" stroke-width="1.2"/>
<text x="279.80" y="525.60" font-size="7.5" text-anchor="end">50</text>
<line x1="282.95" y1="547.00" x2="286.45" y2="547.00" stroke="#111" stroke-width="1.2"/>
<text x="279.80" y="549.60" font-size="7.5" text-anchor="end">25</text>
<line x1="282.95" y1="570.50" x2="286.45" y2="570.50" stroke="#111" stroke-width="1.2"/>
<text x="279.80" y="573.10" font-size="7.5" text-anchor="end">0</text>
<line x1="295.75" y1="575.40" x2="295.75" y2="578.80" stroke="#111" stroke-width="1.1"/>
<text x="295.75" y="588.50" font-size="7.5" text-anchor="middle">0</text>
<line x1="326.80" y1="575.40" x2="326.80" y2="578.80" stroke="#111" stroke-width="1.1"/>
<text x="326.80" y="588.50" font-size="7.5" text-anchor="middle">10</text>
<line x1="357.85" y1="575.40" x2="357.85" y2="578.80" stroke="#111" stroke-width="1.1"/>
<text x="357.85" y="588.50" font-size="7.5" text-anchor="middle">20</text>
<line x1="388.90" y1="575.40" x2="388.90" y2="578.80" stroke="#111" stroke-width="1.1"/>
<text x="388.90" y="588.50" font-size="7.5" text-anchor="middle">30</text>
<line x1="419.95" y1="575.40" x2="419.95" y2="578.80" stroke="#111" stroke-width="1.1"/>
<text x="419.95" y="588.50" font-size="7.5" text-anchor="middle">40</text>
<line x1="451.00" y1="575.40" x2="451.00" y2="578.80" stroke="#111" stroke-width="1.1"/>
<text x="451.00" y="588.50" font-size="7.5" text-anchor="middle">50</text>
<line x1="482.05" y1="575.40" x2="482.05" y2="578.80" stroke="#111" stroke-width="1.1"/>
<text x="482.05" y="588.50" font-size="7.5" text-anchor="middle">60</text>
<text x="262.00" y="570.00" font-size="10.2" textLength="92.50" lengthAdjust="spacingAndGlyphs" transform="rotate(-90 262.00 570.00)">Progression-free survival (%)</text>
<text x="339.00" y="601.50" font-size="10.4" textLength="100.00" lengthAdjust="spacingAndGlyphs">Time from diagnosis (months)</text>
<text x="299.0" y="554.0" font-size="6.2" textLength="29.8" lengthAdjust="spacingAndGlyphs"><tspan font-style="italic">P</tspan> = 0.0061</text>
<path d="M295.80,475.50H298.10V476.27H300.40V477.03H302.70V477.80H305.20V478.97H307.70V480.13H310.20V481.30H312.30V481.67H314.40V482.03H316.50V482.40H318.83V482.60H321.17V482.80H323.50V483.00H324.60V484.70H326.65V485.30H328.70V485.90H331.50V487.00H335.00V488.80H338.50V489.90H341.90V491.10H344.40V491.80H346.90V492.50H349.50V493.07H352.10V493.65H354.70V494.23H357.30V494.80H360.80V497.10H363.47V497.87H366.13V498.63H368.80V499.40H371.20V501.20H374.60V502.90H378.00V504.00H380.33V504.60H382.67V505.20H385.00V505.80H388.50V509.20H389.60V511.00H417.00V515.00H423.80V519.80H433.40V524.50H441.40V532.30H443.50V539.00H444.10V547.40H467.40" fill="none" stroke="#5ba2da" stroke-width="1.5" stroke-linejoin="miter"/>
<path d="M295.80,475.50H296.90V478.40H299.20V479.50H307.90V479.50H310.20V480.70H313.70V481.80H315.70V483.00H317.70V484.20H321.20V485.30H324.60V488.20H326.90V489.90H329.80V491.70H332.10V492.85H334.40V494.00H335.60V495.70H357.30V496.50H368.80V498.80H375.80V500.60H381.00V503.50H387.30V506.30H389.60V509.80H403.70V516.00H408.50V523.70H410.40V530.00H476.80" fill="none" stroke="#b56d1c" stroke-width="1.5" stroke-linejoin="miter"/>
<path d="M295.80,475.50H298.70V476.70H300.80V477.27H302.90V477.83H305.00V478.40H308.50V479.50H310.80V481.30H312.80V482.75H314.80V484.20H316.93V485.13H319.07V486.07H321.20V487.00H324.05V488.15H326.90V489.30H329.03V490.10H331.17V490.90H333.30V491.70H335.40V492.47H337.50V493.23H339.60V494.00H340.80V496.30H344.20V499.20H346.15V500.45H348.10V501.70H351.50V504.60H353.30V506.90H355.30V508.05H357.30V509.20H359.30V510.10H361.30V511.00H364.20V512.40H367.10V513.80H369.15V516.40H371.20V519.00H373.50V519.60H375.80V520.20H379.20V522.50H381.50V523.35H383.80V524.20H386.15V525.10H388.50V526.00H401.70V528.00H411.30V530.40H429.60V535.60H461.00" fill="none" stroke="#2c4a84" stroke-width="1.5" stroke-linejoin="miter"/>
<path d="M295.80,475.50H303.30V476.30H306.20V477.20H308.50V479.00H310.80V481.30H311.30V483.00H314.80V484.20H316.50V485.90H318.85V486.45H321.20V487.00H324.60V488.50H326.90V489.30H330.40V490.50H333.30V491.70H336.20V492.80H339.60V493.60H341.20V494.80H355.00V496.00H356.70V500.00H359.00V502.90H360.20V509.20H361.30V512.10H364.80V513.30H367.70V515.60H370.00V518.50H373.50V520.20H376.90V523.10H378.70V526.00H381.00V528.80H389.60V533.50H394.00V541.00H449.90" fill="none" stroke="#ac0a32" stroke-width="1.5" stroke-linejoin="miter"/>
<text x="286.40" y="612.60" font-size="6.9" textLength="42.00" lengthAdjust="spacingAndGlyphs">Numbers at risk</text>
<line x1="286.30" y1="617.30" x2="286.30" y2="648.70" stroke="#111" stroke-width="1.4"/>
<line x1="285.60" y1="648.10" x2="491.50" y2="648.10" stroke="#333" stroke-width="1.6"/>
<line x1="272.00" y1="620.00" x2="283.20" y2="620.00" stroke="#5ba2da" stroke-width="1.7"/>
<line x1="272.00" y1="628.20" x2="283.20" y2="628.20" stroke="#2c4a84" stroke-width="1.7"/>
<line x1="272.00" y1="636.60" x2="283.20" y2="636.60" stroke="#b56d1c" stroke-width="1.7"/>
<line x1="272.00" y1="644.50" x2="283.20" y2="644.50" stroke="#ac0a32" stroke-width="1.7"/>
<text x="295.75" y="622.10" font-size="6.3" text-anchor="middle">210</text>
<text x="326.80" y="622.10" font-size="6.3" text-anchor="middle">176</text>
<text x="357.85" y="622.10" font-size="6.3" text-anchor="middle">130</text>
<text x="388.90" y="622.10" font-size="6.3" text-anchor="middle">64</text>
<text x="419.95" y="622.10" font-size="6.3" text-anchor="middle">23</text>
<text x="451.00" y="622.10" font-size="6.3" text-anchor="middle">2</text>
<text x="482.05" y="622.10" font-size="6.3" text-anchor="middle">0</text>
<text x="295.75" y="630.30" font-size="6.3" text-anchor="middle">202</text>
<text x="326.80" y="630.30" font-size="6.3" text-anchor="middle">165</text>
<text x="357.85" y="630.30" font-size="6.3" text-anchor="middle">88</text>
<text x="388.90" y="630.30" font-size="6.3" text-anchor="middle">33</text>
<text x="419.95" y="630.30" font-size="6.3" text-anchor="middle">14</text>
<text x="451.00" y="630.30" font-size="6.3" text-anchor="middle">1</text>
<text x="482.05" y="630.30" font-size="6.3" text-anchor="middle">0</text>
<text x="295.75" y="638.70" font-size="6.3" text-anchor="middle">66</text>
<text x="326.80" y="638.70" font-size="6.3" text-anchor="middle">51</text>
<text x="357.85" y="638.70" font-size="6.3" text-anchor="middle">41</text>
<text x="388.90" y="638.70" font-size="6.3" text-anchor="middle">19</text>
<text x="419.95" y="638.70" font-size="6.3" text-anchor="middle">6</text>
<text x="451.00" y="638.70" font-size="6.3" text-anchor="middle">2</text>
<text x="482.05" y="638.70" font-size="6.3" text-anchor="middle">0</text>
<text x="295.75" y="646.60" font-size="6.3" text-anchor="middle">75</text>
<text x="326.80" y="646.60" font-size="6.3" text-anchor="middle">60</text>
<text x="357.85" y="646.60" font-size="6.3" text-anchor="middle">38</text>
<text x="388.90" y="646.60" font-size="6.3" text-anchor="middle">10</text>
<text x="419.95" y="646.60" font-size="6.3" text-anchor="middle">1</text>
<text x="451.00" y="646.60" font-size="6.3" text-anchor="middle">0</text>
<text x="482.05" y="646.60" font-size="6.3" text-anchor="middle">0</text>
<g shape-rendering="crispEdges">
<rect x="1" y="1" width="518" height="1" fill="#d4d4d4"/>
<rect x="1" y="1" width="1" height="653" fill="#d4d4d4"/>
<rect x="517" y="1" width="1" height="653" fill="#e6e6e6"/>
<rect x="518" y="1" width="1" height="653" fill="#8a8a8a"/>
<rect x="1" y="653" width="517" height="1" fill="#e0e0e0"/>
<rect x="1" y="654" width="518" height="1" fill="#7a7a7a"/>
<rect x="0" y="0" width="520" height="1" fill="#000"/>
<rect x="0" y="0" width="1" height="656" fill="#000"/>
<rect x="519" y="0" width="1" height="656" fill="#000"/>
<rect x="0" y="655" width="520" height="1" fill="#000"/>
</g>
</svg>
</body></html>
